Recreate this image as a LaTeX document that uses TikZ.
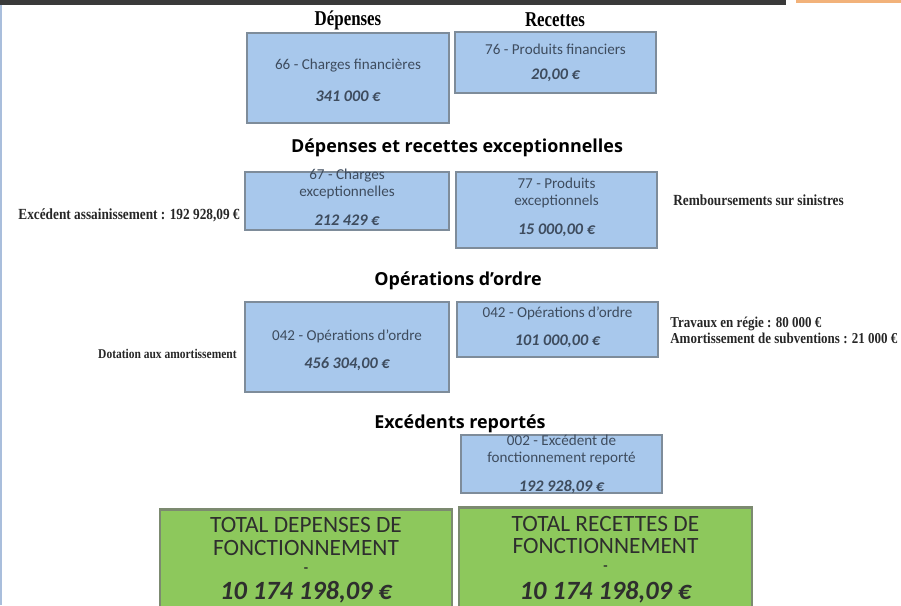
\documentclass[tikz,border=0pt]{standalone}
\usepackage{fontspec}
\setmainfont{Carlito}
\newfontfamily\headfont{Open Sans}
\newfontfamily\titleserif[FakeStretch=0.8]{Liberation Serif}
\newfontfamily\condserif[FakeStretch=0.86]{Liberation Serif}
\usetikzlibrary{positioning}
\definecolor{boxblue}{HTML}{A8C8EC}
\definecolor{boxedge}{HTML}{7E8C9A}
\definecolor{boxgreen}{HTML}{8DC85C}
\definecolor{greenedge}{HTML}{7C8A70}
\definecolor{boxink}{HTML}{3E4C5E}
\definecolor{greenink}{HTML}{2E2E2E}
\definecolor{topbar}{HTML}{3A3A3A}
\definecolor{toporange}{HTML}{F2B27A}
\definecolor{sideline}{HTML}{A9BEDC}
\tikzset{
  bluebox/.style={draw=boxedge, fill=boxblue, line width=1.2pt, inner sep=0pt},
  greenbox/.style={draw=greenedge, fill=boxgreen, line width=1.2pt, inner sep=0pt},
  boxtext/.style={text=boxink, font=\fontsize{8.6}{9.2}\selectfont, inner sep=0pt},
  boxvalue/.style={text=boxink, font=\fontsize{9.2}{10}\selectfont\bfseries\itshape, inner sep=0pt},
  totaltext/.style={text=greenink, font=\fontsize{13.3}{15}\selectfont, inner sep=0pt},
  totaldash/.style={text=greenink, font=\fontsize{8}{8}\selectfont\bfseries, inner sep=0pt},
  totalvalue/.style={text=greenink, font=\fontsize{15}{17}\selectfont\bfseries\itshape, inner sep=0pt},
  sectiontitle/.style={font=\headfont\fontsize{10.2}{12}\selectfont\bfseries, inner sep=0pt},
  coltitle/.style={font=\titleserif\fontsize{12}{14}\selectfont\bfseries, inner sep=0pt},
  sidelabel/.style={text=black!85, font=\condserif\fontsize{8.8}{9.2}\selectfont\bfseries, inner sep=0pt}
}
\begin{document}
\begin{tikzpicture}[x=0.02cm, y=-0.02cm]
    \useasboundingbox (0,0) rectangle (901,605);
    % Page edges
    \fill[topbar] (0,0) rectangle (786,5);
    \fill[toporange] (796,0) rectangle (901,3);
    \fill[sideline] (0,5) rectangle (1.5,605);
    % Column titles
    \node[coltitle] (dep) at (348,20) {Dépenses};
    \node[coltitle] (rec) at (555,20) {Recettes};
    % Financial
    \node[bluebox, minimum width=4.04cm, minimum height=1.80cm] (chg66) at (348,78) {};
    \node[boxtext] (chg66a) at (348,66) {66 - Charges financières};
    \node[boxvalue] (chg66b) at (348,96) {341 000 €};
    \node[bluebox, minimum width=4.02cm, minimum height=1.22cm] (prd76) at (555.5,62.5) {};
    \node[boxtext] (prd76a) at (555.5,49) {76 - Produits financiers};
    \node[boxvalue] (prd76b) at (555.5,75) {20,00 €};
    % Exceptional
    \node[sectiontitle] (exctitle) at (457,148) {Dépenses et recettes exceptionnelles};
    \node[bluebox, minimum width=4.08cm, minimum height=1.16cm] (chg67) at (347,201) {};
    \node[boxtext, align=center] (chg67a) at (347,184) {67 - Charges\\exceptionnelles};
    \node[boxvalue] (chg67b) at (347,220) {212 429 €};
    \node[bluebox, minimum width=4.02cm, minimum height=1.52cm] (prd77) at (556.5,210) {};
    \node[boxtext, align=center] (prd77a) at (556.5,193) {77 - Produits\\exceptionnels};
    \node[boxvalue] (prd77b) at (556.5,230) {15 000,00 €};
    \node[sidelabel, anchor=east] (excleft) at (240,215) {Excédent assainissement : 192 928,09 €};
    \node[sidelabel, anchor=west] (excright) at (673,200) {Remboursements sur sinistres};
    % Order operations
    \node[sectiontitle] (ordtitle) at (458,281) {Opérations d’ordre};
    \node[bluebox, minimum width=4.08cm, minimum height=1.80cm] (ord42l) at (347,347) {};
    \node[boxtext] (ord42la) at (347,336) {042 - Opérations d’ordre};
    \node[boxvalue] (ord42lb) at (347,364) {456 304,00 €};
    \node[bluebox, minimum width=4.02cm, minimum height=1.10cm] (ord42r) at (557.5,329.5) {};
    \node[boxtext] (ord42ra) at (557.5,313) {042 - Opérations d’ordre};
    \node[boxvalue] (ord42rb) at (557.5,341) {101 000,00 €};
    \node[sidelabel, anchor=east, font=\condserif\fontsize{7.6}{9}\selectfont\bfseries] (ordleft) at (237,354) {Dotation aux amortissement};
    \node[sidelabel, anchor=west, align=left, font=\condserif\fontsize{8.6}{9.2}\selectfont\bfseries] (ordright) at (670,330) {Travaux en régie : 80 000 €\\Amortissement de subventions : 21 000 €};
    % Carried forward
    \node[sectiontitle] (reptitle) at (460,424) {Excédents reportés};
    \node[bluebox, minimum width=4.02cm, minimum height=1.16cm] (rep02) at (561.5,464) {};
    \node[boxtext, align=center] (rep02a) at (561.5,450) {002 - Excédent de\\fonctionnement reporté};
    \node[boxvalue] (rep02b) at (561.5,487) {192 928,09 €};
    % Totals
    \node[greenbox, minimum width=5.84cm, minimum height=2.10cm] (totdep) at (306,562) {};
    \node[totaltext] (totdepa) at (306,525) {TOTAL DEPENSES DE};
    \node[totaltext] (totdepb) at (306,548) {FONCTIONNEMENT};
    \node[totaldash] (totdepc) at (306,570) {-};
    \node[totalvalue] (totdepd) at (306,592) {10 174 198,09 €};
    \node[greenbox, minimum width=5.86cm, minimum height=2.14cm] (totrec) at (605.5,561) {};
    \node[totaltext] (totreca) at (605.5,524) {TOTAL RECETTES DE};
    \node[totaltext] (totrecb) at (605.5,546) {FONCTIONNEMENT};
    \node[totaldash] (totrecc) at (605.5,568) {-};
    \node[totalvalue] (totrecd) at (605.5,592) {10 174 198,09 €};
\end{tikzpicture}
\end{document}
